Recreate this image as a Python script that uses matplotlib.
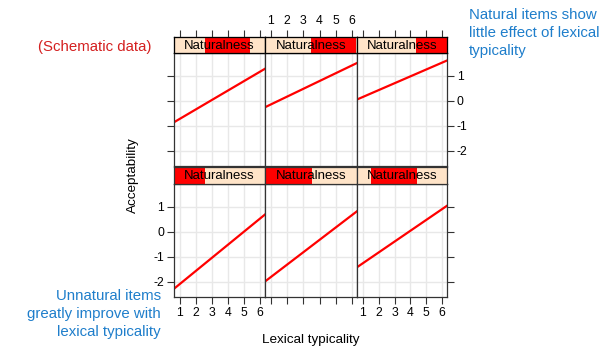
import matplotlib
matplotlib.use('Agg')
import matplotlib.pyplot as plt
from matplotlib.patches import Rectangle

plt.rcParams['font.family'] = ['Liberation Sans', 'DejaVu Sans']
plt.rcParams['axes.unicode_minus'] = False

# x range covered by each fitted line (panel edges)
x_ends = [0.63, 6.31]

# line end values, top row (natural) then bottom row (unnatural)
top_lines = [[-0.87, 1.27], [-0.27, 1.50], [0.04, 1.60]]
bottom_lines = [[-2.29, 0.68], [-2.00, 0.81], [-1.43, 1.03]]

# red part of each strip, as a fraction of the strip width
top_strip = [[0.34, 0.84], [0.50, 0.985], [0.66, 1.0]]
bottom_strip = [[0.0, 0.34], [0.0, 0.51], [0.16, 0.67]]

x_ticks = [1, 2, 3, 4, 5, 6]
y_ticks = [-2, -1, 0, 1]
xlim = (0.63, 6.31)
ylim = (-2.62, 1.9)

W, H = 600, 347
fig = plt.figure(figsize=(W / 100, H / 100), dpi=100)


def box(x0, x1, y0, y1):
    return [x0 / W, (H - y1) / H, (x1 - x0) / W, (y1 - y0) / H]


cols = [(174, 265), (265, 357), (357, 447)]
rows = [((37, 53), (53, 166), top_lines, top_strip),
        ((167, 184), (184, 297), bottom_lines, bottom_strip)]

frame = '#333333'
tick_kw = dict(direction='out', length=5, width=0.8, color='#333333',
               labelsize=8.8, pad=2)
for r, (sy, py, lines, strips) in enumerate(rows):
    for c, (x0, x1) in enumerate(cols):
        ax = fig.add_axes(box(x0, x1, py[0], py[1]))
        ax.set_xlim(xlim)
        ax.set_ylim(ylim)
        for v in x_ticks:
            ax.axvline(v, color='#e8e8e8', lw=1, zorder=0)
        for v in y_ticks:
            ax.axhline(v, color='#e8e8e8', lw=1, zorder=0)
        ax.plot(x_ends, lines[c], color='red', lw=1.6)
        for s in ax.spines.values():
            s.set_color(frame)
            s.set_linewidth(0.9)
        ax.tick_params(top=False, bottom=(r == 1), left=(c == 0), right=(c == 2),
                       labelbottom=(r == 1 and c != 1), labeltop=False,
                       labelleft=(r == 1 and c == 0),
                       labelright=(r == 0 and c == 2), **tick_kw)
        ax.set_xticks(x_ticks)
        ax.set_yticks(y_ticks)

        sx = fig.add_axes(box(x0, x1, sy[0], sy[1]))
        sx.set_xlim(0, 1)
        sx.set_ylim(0, 1)
        sx.set_facecolor('#ffe4c8')
        a, b = strips[c]
        sx.add_patch(Rectangle((a, 0), b - a, 1, color='red', lw=0))
        sx.text(0.5, 0.45, 'Naturalness', ha='center', va='center', fontsize=9.5)
        for s in sx.spines.values():
            s.set_color(frame)
            s.set_linewidth(0.9)
        sx.set_xticks([])
        sx.set_yticks([])
        if r == 0:
            sx2 = sx.twiny()
            sx2.set_xlim(xlim)
            sx2.set_xticks(x_ticks)
            sx2.tick_params(labeltop=(c == 1), **tick_kw)

fig.text(133 / W, 1 - 175 / H, 'Acceptability', rotation=90, ha='center',
         va='center', fontsize=9.7)
fig.text(311 / W, 1 - 340 / H, 'Lexical typicality', ha='center', va='center',
         fontsize=9.7)
fig.text(95 / W, 1 - 47 / H, '(Schematic data)', ha='center', va='center',
         fontsize=10.8, color='#d42020')
fig.text(469 / W, 1 - 8 / H, 'Natural items show\nlittle effect of lexical\ntypicality',
         ha='left', va='top', fontsize=10.8, color='#1f7ecb', linespacing=1.37)
fig.text(161 / W, 1 - 289 / H, 'Unnatural items\ngreatly improve with\nlexical typicality',
         ha='right', va='top', fontsize=10.8, color='#1f7ecb', linespacing=1.37)

fig.savefig('out.png', dpi=100)
